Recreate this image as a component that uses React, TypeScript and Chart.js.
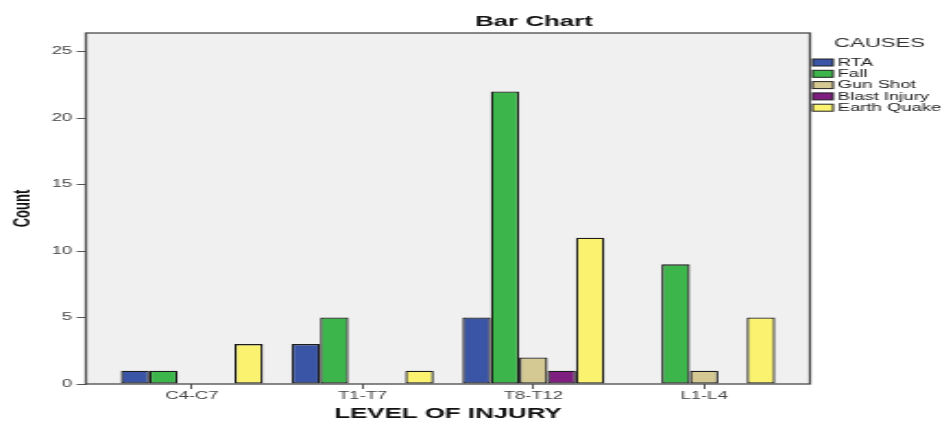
import React, { useEffect, useRef } from "react";
import { Chart, registerables } from "chart.js";

Chart.register(...registerables);

const categories = ["C4-C7", "T1-T7", "T8-T12", "L1-L4"];
const causes = ["RTA", "Fall", "Gun Shot", "Blast Injury", "Earth Quake"];
const rta = [1, 3, 5, null];
const fall = [1, 5, 22, 9];
const gunShot = [null, null, 2, 1];
const blastInjury = [null, null, 1, null];
const earthQuake = [3, 1, 11, 5];
const yTickValues = [0, 5, 10, 15, 20, 25];
const causeColors = ["#3a55a5", "#3cb54b", "#d5c993", "#7e1e7f", "#fbf36f"];
const chartTitle = "Bar Chart";
const legendTitle = "CAUSES";
const xTitle = "LEVEL OF INJURY";
const yTitle = "Count";

const FONT = "'Liberation Sans', Arial, sans-serif";
const STRETCH = 942 / 510;

const series = [rta, fall, gunShot, blastInjury, earthQuake];

export default function App() {
  const ref = useRef<HTMLCanvasElement | null>(null);

  useEffect(() => {
    document.body.style.margin = "0";
    const canvas = ref.current;
    if (!canvas) return;

    const decor = {
      id: "decor",
      beforeDraw(chart: any) {
        const { ctx, chartArea: a } = chart;
        ctx.save();
        ctx.fillStyle = "#ffffff";
        ctx.fillRect(0, 0, chart.width, chart.height);
        ctx.fillStyle = "#f0f0f0";
        ctx.fillRect(a.left, a.top, a.right - a.left, a.bottom - a.top);
        ctx.restore();
      },
      afterDatasetsDraw(chart: any) {
        const { ctx, chartArea: a } = chart;
        ctx.save();
        ctx.strokeStyle = "#4a4a4a";
        ctx.lineWidth = 1.3;
        ctx.strokeRect(a.left, a.top, a.right - a.left, a.bottom - a.top);
        ctx.restore();
      },
      afterDraw(chart: any) {
        const { ctx, chartArea: a } = chart;
        ctx.save();
        ctx.fillStyle = "#111";
        ctx.font = `bold 14px ${FONT}`;
        ctx.textAlign = "center";
        ctx.textBaseline = "middle";
        ctx.fillText(chartTitle, a.left + (534 - 86) / STRETCH, 22);
        const lx = a.right + 1.5;
        ctx.textAlign = "left";
        ctx.font = `12px ${FONT}`;
        ctx.fillStyle = "#333";
        ctx.fillText(legendTitle, lx + 11.5, 44);
        ctx.font = `10px ${FONT}`;
        chart.data.datasets.forEach((ds: any, i: number) => {
          const cy = 62.5 + i * 11.3;
          ctx.fillStyle = ds.backgroundColor;
          ctx.fillRect(lx, cy - 3.5, 11, 7);
          ctx.strokeStyle = "#222";
          ctx.lineWidth = 1;
          ctx.strokeRect(lx, cy - 3.5, 11, 7);
          ctx.fillStyle = "#222";
          ctx.fillText(ds.label, lx + 13.5, cy + 0.5);
        });
        ctx.restore();
      },
    };

    const chart = new Chart(canvas, {
      type: "bar",
      data: {
        datasets: series.map((arr, s) => ({
          label: causes[s],
          data: categories.map((_, i) => ({ x: i, y: arr[i] })),
          backgroundColor: causeColors[s],
          borderColor: "#1c1c1c",
          borderWidth: 1.3,
          borderSkipped: false,
          categoryPercentage: 0.832,
          barPercentage: 1,
        })),
      },
      options: {
        animation: false,
        responsive: false,
        devicePixelRatio: 1,
        layout: { padding: { top: 33, right: 510 - 438.5, left: 0, bottom: 0 } },
        plugins: {
          legend: { display: false },
          title: { display: false },
          tooltip: { enabled: false },
        },
        scales: {
          x: {
            type: "linear",
            min: -0.621,
            max: 3.62,
            offset: false,
            afterBuildTicks: (scale: any) => {
              scale.ticks = categories.map((_, i) => ({ value: i }));
            },
            afterFit: (scale: any) => {
              scale.height = 39;
            },
            grid: {
              display: true,
              offset: false,
              drawOnChartArea: false,
              drawTicks: true,
              tickLength: 5,
              color: "#555",
            },
            border: { display: false },
            ticks: {
              autoSkip: false,
              maxRotation: 0,
              padding: 1.5,
              color: "#444",
              font: { family: FONT, size: 10 },
              callback: (v: any) => categories[Math.round(Number(v))] ?? "",
            },
            title: {
              display: true,
              text: xTitle,
              color: "#111",
              font: { family: FONT, size: 14, weight: "bold" },
              padding: { top: 0, bottom: 0 },
            },
          },
          y: {
            type: "linear",
            min: 0,
            max: 26.4,
            afterBuildTicks: (scale: any) => {
              scale.ticks = yTickValues.map((v) => ({ value: v }));
            },
            afterFit: (scale: any) => {
              scale.width = 46.5;
            },
            grid: {
              display: true,
              drawOnChartArea: false,
              drawTicks: true,
              tickLength: 5,
              color: "#555",
            },
            border: { display: false },
            ticks: {
              padding: 2.5,
              color: "#444",
              font: { family: FONT, size: 10 },
            },
            title: {
              display: true,
              text: yTitle,
              color: "#111",
              font: { family: FONT, size: 13, weight: "bold" },
              padding: { top: 4.2, bottom: 0 },
            },
          },
        },
      },
      plugins: [decor],
    } as any);

    return () => chart.destroy();
  }, []);

  return (
    <div>
      <canvas
        ref={ref}
        width={510}
        height={423}
        style={{ width: "942px", height: "423px", display: "block" }}
      />
    </div>
  );
}
